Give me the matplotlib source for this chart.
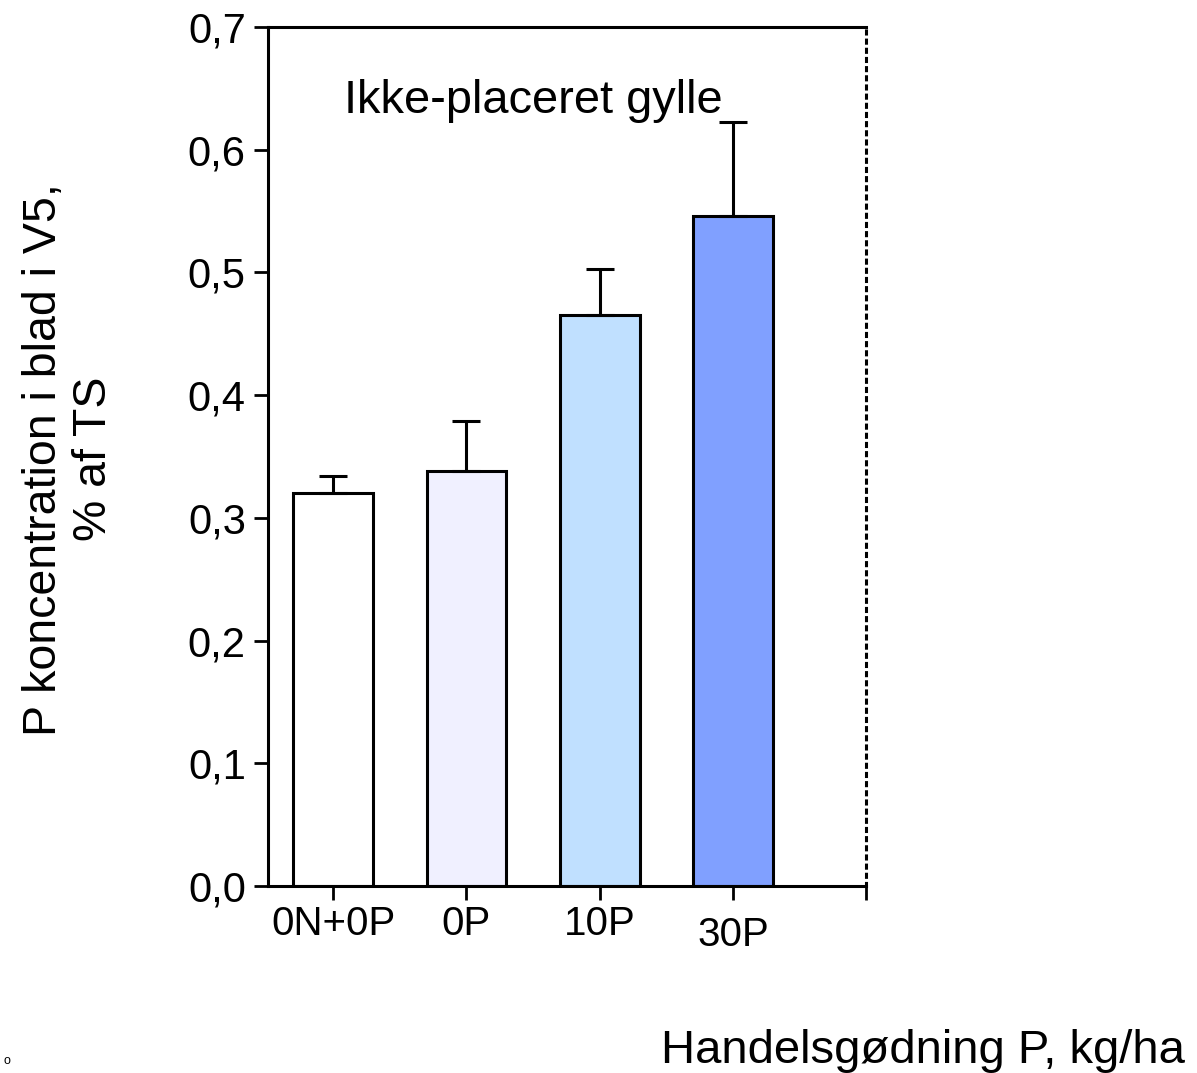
import matplotlib.pyplot as plt

plt.rcParams['font.family'] = ['Liberation Sans', 'DejaVu Sans']

treatments = ['0N+0P', '0P', '10P', '30P']
p_conc = [0.320, 0.338, 0.465, 0.546]
p_err = [0.014, 0.041, 0.038, 0.077]
bar_colors = ['#FFFFFF', '#F0F0FF', '#C0E0FF', '#80A0FF']

fig = plt.figure(figsize=(11.97, 10.73), dpi=100)
ax = fig.add_axes([0.2239, 0.1743, 0.4996, 0.8005])

x = list(range(len(treatments)))
ax.bar(x, p_conc, width=0.6, color=bar_colors, edgecolor='black', linewidth=2.2,
       yerr=[[0] * len(p_err), p_err], capsize=10,
       error_kw={'elinewidth': 2.2, 'capthick': 2.2, 'ecolor': 'black'})

ax.set_xlim(-0.49, 4.0)
ax.set_ylim(0, 0.7)
ax.set_xticks(x + [4])
ax.set_xticklabels(treatments + [''])
ax.set_yticks([i / 10 for i in range(8)])
ax.set_yticklabels([f'{i / 10:.1f}'.replace('.', ',') for i in range(8)])
ax.tick_params(axis='y', labelsize=30, width=2, length=10, direction='out', pad=6)
ax.tick_params(axis='x', labelsize=29, width=2, length=10, direction='out', pad=4)

# 30P label sits a bit lower in the original
ax.get_xticklabels()[3].set_y(-0.012)

for s in ['left', 'bottom', 'top']:
    ax.spines[s].set_linewidth(2.2)
ax.spines['right'].set_linestyle((0, (1, 2)))
ax.spines['right'].set_linewidth(2.2)

fig.text(0.0577, 0.572, 'P koncentration i blad i V5,\n% af TS', fontsize=33.5,
         rotation=90, ha='center', va='center', multialignment='center', linespacing=1.18)
ax.text(1.5, 0.640, 'Ikke-placeret gylle', fontsize=33.8, ha='center', va='center')

fig.text(0.99, 0.009, 'Handelsgødning P, kg/ha', fontsize=34, ha='right', va='baseline')
fig.text(0.003, 0.008, 'o', fontsize=9, ha='left', va='baseline')

fig.savefig('out.png', dpi=100)
